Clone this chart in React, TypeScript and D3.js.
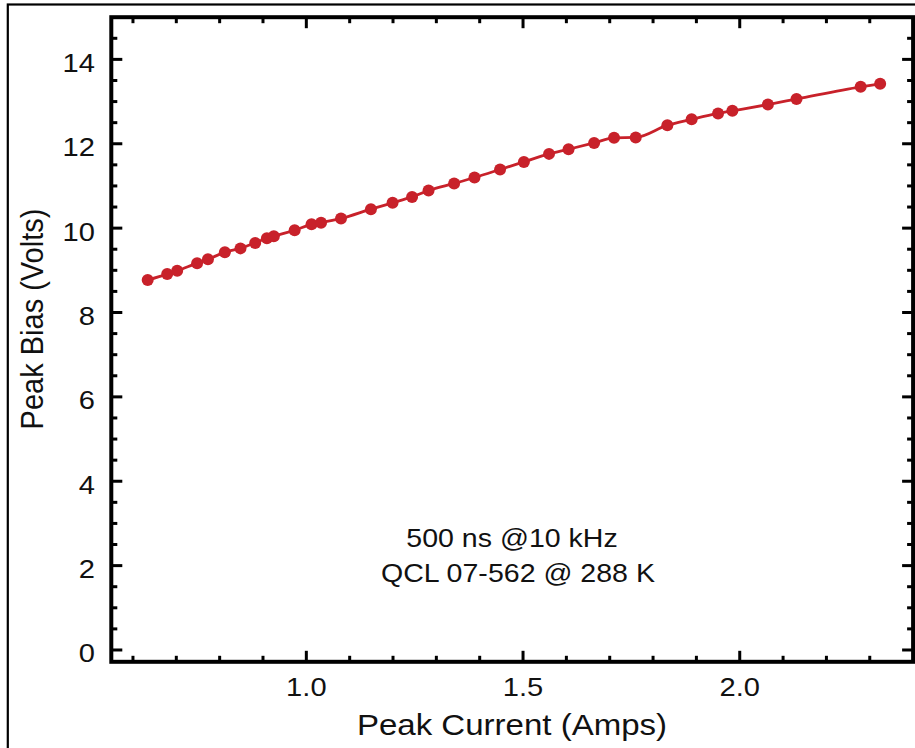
import React from "react";
import * as d3 from "d3";

const current = [0.634, 0.679, 0.702, 0.748, 0.773, 0.812, 0.848, 0.882, 0.909, 0.925, 0.973, 1.012, 1.034, 1.080, 1.149, 1.199, 1.244, 1.282, 1.341, 1.388, 1.447, 1.502, 1.560, 1.605, 1.664, 1.710, 1.760, 1.833, 1.889, 1.950, 1.983, 2.065, 2.131, 2.279, 2.324];
const bias = [8.77, 8.91, 8.99, 9.17, 9.26, 9.43, 9.52, 9.65, 9.76, 9.81, 9.95, 10.09, 10.13, 10.23, 10.45, 10.60, 10.74, 10.89, 11.06, 11.20, 11.39, 11.57, 11.76, 11.87, 12.02, 12.14, 12.15, 12.44, 12.58, 12.72, 12.78, 12.93, 13.06, 13.35, 13.42];

const xMajorTicks = [1.0, 1.5, 2.0];
const xTickLabels = ["1.0", "1.5", "2.0"];
const yMajorTicks = [0, 2, 4, 6, 8, 10, 12, 14];
const yTickLabels = ["0", "2", "4", "6", "8", "10", "12", "14"];
const xLabel = "Peak Current (Amps)";
const yLabel = "Peak Bias (Volts)";
const noteLines = ["500 ns @10 kHz", "QCL 07-562 @ 288 K"];

const W = 915;
const H = 748;
const RED = "#c8212a";
const FONT = "'Liberation Sans', Arial, Helvetica, sans-serif";
const SX = 1.12;

export default function App() {
  const x = d3.scaleLinear().domain([0.55, 2.4]).range([111.3, 913.1]);
  const y = d3.scaleLinear().domain([-0.28, 15]).range([661.8, 17.2]);
  const [x0, x1] = x.range();
  const [y0, y1] = y.range();

  const xMinor = d3.range(6, 24).map((v) => v / 10).filter((v) => !xMajorTicks.some((m) => Math.abs(m - v) < 1e-6));
  const yMinor = d3.range(0, 30).map((v) => v / 2).filter((v) => !yMajorTicks.includes(v));

  const pts = current.map((c, i) => [c, bias[i]] as [number, number]);
  const line = d3
    .line<[number, number]>()
    .x((d) => x(d[0]))
    .y((d) => y(d[1]))
    .curve(d3.curveMonotoneX);

  const MAJ = 11;
  const MIN = 6;
  const tickW = 3;

  return (
    <svg width={W} height={H} style={{ position: "absolute", left: 0, top: 0, background: "#fff" }} fontFamily={FONT}>
      <rect x={0} y={0} width={W} height={H} fill="#fff" />
      <rect x={7.8} y={4.5} width={W + 20} height={H + 20} fill="none" stroke="#000" strokeWidth={2.2} />

      <g stroke="#000" strokeWidth={tickW}>
        {xMajorTicks.map((v) => (
          <g key={"xM" + v}>
            <line x1={x(v)} x2={x(v)} y1={y0} y2={y0 - MAJ} />
            <line x1={x(v)} x2={x(v)} y1={y1} y2={y1 + MAJ} />
          </g>
        ))}
        {xMinor.map((v) => (
          <g key={"xm" + v}>
            <line x1={x(v)} x2={x(v)} y1={y0} y2={y0 - MIN} />
            <line x1={x(v)} x2={x(v)} y1={y1} y2={y1 + MIN} />
          </g>
        ))}
        {yMajorTicks.map((v) => (
          <g key={"yM" + v}>
            <line x1={x0} x2={x0 + MAJ} y1={y(v)} y2={y(v)} />
            <line x1={x1} x2={x1 - MAJ} y1={y(v)} y2={y(v)} />
          </g>
        ))}
        {yMinor.map((v) => (
          <g key={"ym" + v}>
            <line x1={x0} x2={x0 + MIN} y1={y(v)} y2={y(v)} />
            <line x1={x1} x2={x1 - MIN} y1={y(v)} y2={y(v)} />
          </g>
        ))}
      </g>

      <rect x={x0} y={y1} width={x1 - x0} height={y0 - y1} fill="none" stroke="#000" strokeWidth={4} />

      <g fontSize={26} fill="#111">
        {xMajorTicks.map((v, i) => (
          <text key={"xl" + v} transform={`translate(${x(v)},${696}) scale(${SX},1)`} textAnchor="middle">
            {xTickLabels[i]}
          </text>
        ))}
        {yMajorTicks.map((v, i) => (
          <text key={"yl" + v} transform={`translate(${95},${y(v) + 12.5}) scale(${SX},1)`} textAnchor="end">
            {yTickLabels[i]}
          </text>
        ))}
      </g>

      <text transform={`translate(512,735) scale(${SX},1)`} textAnchor="middle" fontSize={29.5} fill="#111">
        {xLabel}
      </text>
      <text transform={`translate(43.3,319) scale(1.08,1) rotate(-90)`} textAnchor="middle" fontSize={29} fill="#111">
        {yLabel}
      </text>

      <text transform={`translate(512,546.5) scale(${SX},1)`} textAnchor="middle" fontSize={25.5} fill="#111">
        {noteLines[0]}
      </text>
      <text transform={`translate(518,581.5) scale(${SX},1)`} textAnchor="middle" fontSize={25.5} fill="#111">
        {noteLines[1]}
      </text>

      <path d={line(pts) || ""} fill="none" stroke={RED} strokeWidth={2.8} />
      {pts.map((p, i) => (
        <circle key={i} cx={x(p[0])} cy={y(p[1])} r={6} fill={RED} />
      ))}
    </svg>
  );
}
